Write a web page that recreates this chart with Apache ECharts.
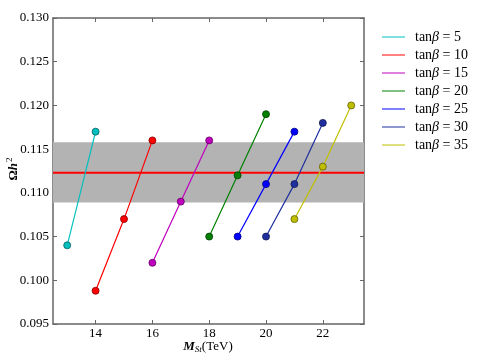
<!DOCTYPE html>
<html>
<head>
<meta charset="utf-8">
<script src="https://cdn.jsdelivr.net/npm/echarts@6/dist/echarts.min.js"></script>
<style>
  html, body { margin: 0; padding: 0; background: #fff; }
  #chart { width: 480px; height: 360px; }
</style>
</head>
<body>
<div id="chart"></div>
<script>
  // data
  const tanBeta = [5, 10, 15, 20, 25, 30, 35];
  const mSt = [
    [13, 14],
    [14, 15, 16],
    [16, 17, 18],
    [18, 19, 20],
    [19, 20, 21],
    [20, 21, 22],
    [21, 22, 23]
  ];
  const omegaH2 = [
    [0.104, 0.117],
    [0.0988, 0.107, 0.116],
    [0.102, 0.109, 0.116],
    [0.105, 0.112, 0.119],
    [0.105, 0.111, 0.117],
    [0.105, 0.111, 0.118],
    [0.107, 0.113, 0.120]
  ];
  const lineColors = ['#00bfbf', '#ff0000', '#bf00bf', '#008000', '#0000ff', '#1f2f9f', '#bfbf00'];
  const edgeColors = ['#006060', '#800000', '#600060', '#004000', '#000080', '#0f1750', '#606000'];
  const xTicks = [14, 16, 18, 20, 22];
  const yTicks = [0.095, 0.100, 0.105, 0.110, 0.115, 0.120, 0.125, 0.130];
  const xRange = [12.5, 23.45];
  const bandLow = 0.1089, bandHigh = 0.1158, central = 0.1123;

  const chart = echarts.init(document.getElementById('chart'));
  const serif = '"Liberation Serif", "DejaVu Serif", serif';
  const frame = { show: true, lineStyle: { color: '#666', width: 1.5 } };

  const series = tanBeta.map((t, i) => ({
    name: 'tanβ=' + t,
    type: 'line',
    data: mSt[i].map((x, j) => [x, omegaH2[i][j]]),
    symbol: 'circle',
    symbolSize: 7,
    lineStyle: { color: lineColors[i], width: 1.2 },
    itemStyle: { color: lineColors[i], borderColor: edgeColors[i], borderWidth: 0.8 },
    z: 5
  }));

  // grey band
  series.unshift({
    name: 'band',
    type: 'line',
    data: [],
    silent: true,
    z: 1,
    markArea: {
      silent: true,
      itemStyle: { color: '#b3b3b3' },
      data: [[{ yAxis: bandLow }, { yAxis: bandHigh }]]
    }
  });
  // central value
  series.push({
    name: 'central',
    type: 'line',
    data: xRange.map(x => [x, central]),
    symbol: 'none',
    silent: true,
    lineStyle: { color: '#ff0000', width: 2 },
    z: 3
  });

  const option = {
    animation: false,
    textStyle: { fontFamily: serif },
    grid: { left: 53, right: 116, top: 18, bottom: 36, outerBoundsMode: 'none', containLabel: false },
    graphic: [{
      // y axis title, rotated
      type: 'text',
      x: 14,
      y: 169,
      rotation: Math.PI / 2,
      style: {
        text: '{o|Ω}{it|h}{sup|2}',
        align: 'center',
        verticalAlign: 'middle',
        rich: {
          o: { fontFamily: serif, fontWeight: 'bold', fontSize: 13, fill: '#000' },
          it: { fontFamily: serif, fontStyle: 'italic', fontWeight: 'bold', fontSize: 13, fill: '#000' },
          sup: { fontFamily: serif, fontSize: 9, fill: '#000', padding: [0, 0, 8, 1] }
        }
      }
    }, {
      // x axis title
      type: 'text',
      x: 208,
      y: 347,
      style: {
        text: '{it|M}{sub|St}{n|(TeV)}',
        align: 'center',
        verticalAlign: 'middle',
        rich: {
          it: { fontFamily: serif, fontStyle: 'italic', fontWeight: 'bold', fontSize: 13, fill: '#000' },
          sub: { fontFamily: serif, fontStyle: 'italic', fontSize: 9, fill: '#000', padding: [6, 0, 0, 0] },
          n: { fontFamily: serif, fontSize: 13, fill: '#000' }
        }
      }
    }],
    legend: {
      orient: 'vertical',
      left: 377,
      top: 25,
      itemGap: 4,
      itemWidth: 23,
      itemHeight: 1,
      icon: 'rect',
      itemStyle: { borderWidth: 0 },
      data: tanBeta.map(t => 'tanβ=' + t),
      formatter: name => 'tan{b|β} = ' + name.slice(5),
      textStyle: {
        fontFamily: serif, fontSize: 14, color: '#000', padding: [0, 0, 0, 5],
        rich: { b: { fontFamily: serif, fontSize: 14, fontStyle: 'italic', color: '#000' } }
      }
    },
    xAxis: [{
      type: 'value', min: xRange[0], max: xRange[1],
      axisLine: frame,
      splitLine: { show: false },
      axisTick: { inside: true, length: 4, lineStyle: { color: '#666' }, customValues: xTicks },
      axisLabel: { customValues: xTicks, fontFamily: serif, fontSize: 13, color: '#000', margin: 3 }
    }, {
      type: 'value', min: xRange[0], max: xRange[1], position: 'top',
      axisLine: frame,
      splitLine: { show: false },
      axisTick: { inside: true, length: 4, lineStyle: { color: '#666' }, customValues: xTicks },
      axisLabel: { show: false }
    }],
    yAxis: [{
      type: 'value', min: 0.095, max: 0.130,
      axisLine: frame,
      splitLine: { show: false },
      axisTick: { inside: true, length: 4, lineStyle: { color: '#666' }, customValues: yTicks },
      axisLabel: {
        customValues: yTicks, fontFamily: serif, fontSize: 13, color: '#000', margin: 4,
        formatter: v => v.toFixed(3)
      }
    }, {
      type: 'value', min: 0.095, max: 0.130, position: 'right',
      axisLine: frame,
      splitLine: { show: false },
      axisTick: { inside: true, length: 4, lineStyle: { color: '#666' }, customValues: yTicks },
      axisLabel: { show: false }
    }],
    series: series
  };

  chart.setOption(option);
</script>
</body>
</html>
